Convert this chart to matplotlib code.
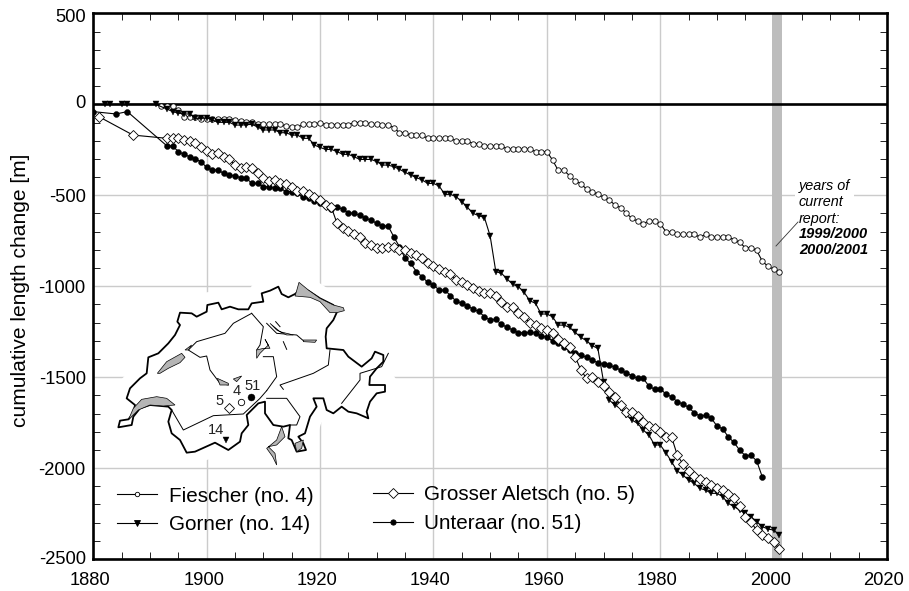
import matplotlib
matplotlib.use("Agg")
import matplotlib.pyplot as plt
from matplotlib.lines import Line2D
from matplotlib.patches import Polygon
from matplotlib.transforms import ScaledTranslation

plt.rcParams['font.family'] = ['Liberation Sans', 'DejaVu Sans']

# ---- data -----
fiescher_years = list(range(1892, 2002))
fiescher_vals = [-10, -8, -8, -30, -68, -68, -70, -78, -80, -80, -78, -78, -78, -85, -90, -95, -95, -110, -110, -110,
                 -110, -110, -120, -127, -127, -110, -110, -110, -100, -112, -112, -112, -112, -112, -100, -100, -100,
                 -110, -110, -114, -114, -128, -156, -156, -171, -171, -171, -187, -187, -187, -187, -187, -202, -202,
                 -202, -216, -216, -229, -229, -229, -229, -246, -246, -246, -246, -246, -260, -260, -260, -306, -363,
                 -363, -392, -422, -436, -466, -480, -495, -510, -524, -554, -568, -598, -627, -642, -656, -642, -642,
                 -656, -700, -700, -715, -715, -715, -715, -730, -715, -730, -730, -730, -730, -745, -759, -788, -788,
                 -803, -862, -891, -906, -920]
fiescher_years = fiescher_years[:len(fiescher_vals)]

gorner_years = [1882, 1883, 1885, 1886, 1891] + list(range(1893, 2002))
gorner_vals = [0, 0, 0, 0, 0, -26, -40, -48, -53, -53, -77, -77, -74, -86, -99, -99, -99, -114, -114, -112, -110, -125,
               -141, -141, -141, -156, -156, -169, -169, -187, -187, -224, -237, -248, -248, -260, -275, -275, -288,
               -303, -303, -303, -315, -334, -334, -343, -357, -374, -389, -403, -416, -435, -435, -449, -495, -495,
               -508, -535, -567, -600, -612, -623, -724, -920, -929, -961, -990, -1003, -1034, -1080, -1094, -1153,
               -1153, -1168, -1214, -1214, -1226, -1254, -1281, -1300, -1327, -1342, -1525, -1626, -1653, -1672, -1708,
               -1736, -1754, -1791, -1818, -1873, -1873, -1916, -1965, -2016, -2038, -2066, -2084, -2112, -2121, -2139,
               -2139, -2157, -2194, -2212, -2231, -2249, -2267, -2295, -2322, -2335, -2341, -2368]

aletsch_years = [1881, 1887] + list(range(1893, 2002))
aletsch_vals = [-68, -169, -187, -183, -183, -196, -200, -215, -233, -255, -273, -270, -288, -303, -334, -352, -347,
                -352, -376, -407, -420, -416, -435, -440, -453, -477, -477, -495, -508, -526, -554, -567, -655, -682,
                -697, -713, -728, -761, -774, -792, -792, -783, -783, -801, -801, -820, -829, -847, -875, -889, -908,
                -920, -933, -966, -975, -994, -1012, -1025, -1036, -1036, -1052, -1085, -1113, -1113, -1150, -1172,
                -1201, -1214, -1232, -1241, -1256, -1290, -1314, -1333, -1388, -1461, -1507, -1501, -1525, -1549,
                -1580, -1611, -1653, -1690, -1694, -1714, -1745, -1769, -1782, -1804, -1828, -1829, -1928, -1978,
                -2016, -2044, -2062, -2079, -2093, -2108, -2121, -2143, -2167, -2209, -2267, -2297, -2341, -2370,
                -2387, -2405, -2445]

unteraar_years = [1880, 1884, 1886] + list(range(1893, 1999))
unteraar_vals = [-40, -53, -40, -229, -229, -260, -275, -288, -301, -315, -347, -361, -361, -380, -389, -394, -403,
                 -407, -435, -435, -453, -453, -462, -462, -480, -480, -490, -512, -517, -530, -545, -558, -575, -563,
                 -578, -596, -600, -610, -627, -636, -655, -669, -669, -728, -783, -847, -875, -920, -948, -979, -994,
                 -1021, -1021, -1052, -1082, -1094, -1109, -1126, -1139, -1168, -1186, -1182, -1210, -1226, -1241,
                 -1256, -1256, -1254, -1256, -1272, -1281, -1300, -1315, -1335, -1350, -1365, -1378, -1391, -1406,
                 -1421, -1430, -1433, -1446, -1461, -1476, -1492, -1507, -1507, -1549, -1567, -1564, -1593, -1608,
                 -1635, -1648, -1666, -1696, -1714, -1710, -1725, -1769, -1784, -1828, -1859, -1901, -1932, -1930,
                 -1960, -2048]

# map outlines, in map units
border = [(55, 472), (60, 452), (85, 448), (100, 430), (105, 405), (80, 385), (90, 355), (120, 325), (140, 310),
          (145, 262), (175, 250), (205, 220), (225, 195), (240, 165), (232, 155), (240, 128), (275, 130), (290, 140),
          (320, 125), (322, 105), (355, 98), (365, 118), (390, 110), (415, 118), (445, 118), (455, 100), (490, 95),
          (485, 70), (510, 62), (535, 50), (545, 72), (565, 82), (585, 72), (600, 60), (625, 62), (660, 85),
          (700, 105), (710, 128), (700, 150), (680, 175), (677, 200), (680, 235), (730, 240), (745, 260), (785, 290),
          (815, 265), (825, 245), (850, 255), (850, 275), (830, 295), (810, 320), (808, 345), (855, 345), (855, 365),
          (830, 370), (810, 395), (800, 425), (805, 445), (770, 430), (745, 425), (725, 410), (700, 430), (680, 420),
          (670, 385), (640, 385), (650, 410), (630, 440), (615, 490), (595, 500), (610, 520), (618, 540), (590, 545),
          (575, 510), (565, 505), (570, 465), (550, 470), (520, 465), (495, 430), (495, 395), (475, 400), (440, 435),
          (445, 465), (425, 490), (420, 515), (385, 540), (345, 518), (285, 545), (260, 548), (240, 510), (215, 490),
          (205, 455), (215, 420), (205, 410), (150, 405), (120, 415), (100, 440), (95, 465)]
rivers = [
    [(215, 420), (250, 480), (340, 437), (430, 432), (480, 385), (500, 362)],
    [(455, 130), (400, 160), (375, 190), (290, 215), (265, 240), (300, 262), (320, 258), (330, 300), (360, 340),
     (385, 345)],
    [(455, 130), (490, 170), (480, 225), (470, 240)],
    [(490, 260), (520, 260), (530, 320), (500, 362)],
    [(550, 358), (540, 345), (640, 310), (685, 285), (690, 240)],
    [(725, 400), (780, 330), (780, 310), (845, 290), (865, 250)],
    [(500, 385), (560, 385), (600, 440), (590, 465), (570, 465)],
    [(500, 160), (530, 190), (590, 195), (610, 212)],
    [(550, 215), (560, 238)],
    [(527, 155), (540, 170)],
]
lakes = [
    [(85, 450), (100, 415), (125, 388), (170, 380), (200, 385), (225, 405), (190, 408), (150, 405), (115, 420)],
    [(172, 310), (200, 275), (245, 250), (255, 262), (240, 278), (205, 295), (180, 310)],
    [(255, 240), (275, 225), (265, 240)],
    [(597, 37), (625, 60), (660, 85), (700, 105), (730, 113), (733, 122), (710, 128), (690, 128), (660, 95),
     (630, 82), (585, 78), (590, 62)],
    [(352, 325), (385, 340), (385, 345), (360, 345)],
    [(400, 327), (425, 318), (410, 335)],
    [(470, 240), (490, 235), (510, 235), (495, 208), (505, 225), (480, 250), (470, 265)],
    [(510, 160), (530, 180), (560, 195), (580, 195), (540, 185)],
    [(610, 210), (650, 210), (645, 217), (610, 215)],
    [(545, 470), (555, 500), (530, 525), (505, 530), (525, 550), (530, 585), (518, 560), (500, 535), (530, 510)],
    [(585, 520), (610, 510), (605, 535), (590, 545)],
]
site_labels = ['5', '4', '51', '14']
site_x = [387, 422, 453, 378]
site_y = [413, 397, 380, 510]
site_tx = [358, 410, 458, 347]
site_ty = [392, 362, 348, 480]

W, H = 909, 591
fig = plt.figure(figsize=(W / 100, H / 100), dpi=100)
L, R, T, B = 93.3, 887, 13.4, 559
ax = fig.add_axes([L / W, 1 - B / H, (R - L) / W, (B - T) / H])
ax.set_xlim(1880, 2020)
ax.set_ylim(-2500, 500)
ax.set_xticks(range(1880, 2021, 20))
ax.set_xticks(range(1880, 2021, 5), minor=True)
ax.set_yticks(range(-2500, 501, 500))
ax.set_yticks(range(-2500, 501, 100), minor=True)
ax.grid(True, which='major', color='#cbcbcb', lw=1.0, zorder=0)
ax.set_axisbelow(True)
ax.tick_params(which='major', direction='in', length=0, labelsize=13.2)
ax.tick_params(axis='x', which='major', pad=9.5)
ax.tick_params(axis='y', which='major', pad=5.5)
ax.tick_params(which='minor', direction='in', length=5, width=0.7, color='#222222', top=True, right=True)
for s in ax.spines.values():
    s.set_linewidth(1.9)
ax.set_yticklabels([str(v) for v in range(-2500, 501, 500)])
ax.set_ylabel('cumulative length change [m]', fontsize=15.1)
ax.yaxis.set_label_coords((30 - L) / (R - L), 1 - (290 - T) / (B - T))

dpi_scale = fig.dpi_scale_trans
def px_shift(dx, dy):
    return ScaledTranslation(dx / 100, dy / 100, dpi_scale)
for lab in ax.get_xticklabels():
    lab.set_transform(lab.get_transform() + px_shift(-3, 0))
for lab, v in zip(ax.get_yticklabels(), range(-2500, 501, 500)):
    shift = {500: -2, 0: 2.5, -2500: 2}.get(v, 0)
    lab.set_transform(lab.get_transform() + px_shift(0, shift))

ax.axvspan(1999.8, 2001.4, color='#bdbdbd', lw=0, zorder=1)
ax.axhline(0, color='black', lw=1.9, zorder=2)

fs = dict(color='black', lw=0.8, mec='black')
ax.plot(fiescher_years, fiescher_vals, marker='o', ms=3.9, mfc='white', mew=0.6, zorder=3, **fs)
ax.plot(gorner_years, gorner_vals, marker='v', ms=4.8, mfc='black', mew=0.3, zorder=4, **fs)
ax.plot(unteraar_years, unteraar_vals, marker='o', ms=4.3, mfc='black', mew=0.3, zorder=5, **fs)
ax.plot(aletsch_years, aletsch_vals, marker='D', ms=5.4, mfc='white', mew=0.6, zorder=6, **fs)

# legend
def key(marker, ms, mfc):
    return Line2D([], [], color='black', lw=0.8, marker=marker, ms=ms, mfc=mfc, mec='black', mew=0.6)

leg_kw = dict(frameon=False, fontsize=14.9, handlelength=1.95, handletextpad=0.54, labelspacing=0.47,
              borderpad=0, borderaxespad=0, bbox_transform=fig.transFigure, loc='upper left')
leg1 = ax.legend([key('o', 3.2, 'white'), key('v', 3.8, 'black')], ['Fiescher (no. 4)', 'Gorner (no. 14)'],
                 bbox_to_anchor=(117 / W, 1 - 486.5 / H), **leg_kw)
ax.add_artist(leg1)
leg1.set_zorder(9)
leg2 = ax.legend([key('D', 5.0, 'white'), key('o', 3.8, 'black')], ['Grosser Aletsch (no. 5)', 'Unteraar (no. 51)'],
                 bbox_to_anchor=(372.7 / W, 1 - 485.5 / H), **leg_kw)
leg2.set_zorder(9)

# annotation
ax.text(799 / W, 1 - 202.5 / H, 'years of\ncurrent\nreport:', transform=fig.transFigure, style='italic',
        fontsize=10.4, va='center', ha='left', linespacing=1.24, zorder=7,
        bbox=dict(fc='white', ec='none', pad=3))
ax.text(799 / W, 1 - 242 / H, '1999/2000\n2000/2001', transform=fig.transFigure, style='italic', weight='bold',
        fontsize=10.5, va='center', ha='left', linespacing=1.24, zorder=8)
fig.add_artist(Line2D([776 / W, 798 / W], [1 - 246 / H, 1 - 222 / H], color='#333333', lw=0.6))

# map inset
mp = fig.add_axes([100 / W, 1 - 470 / H, 300 / W, 200 / H], zorder=7)
mp.set_xlim(0, 900)
mp.set_ylim(600, 0)
mp.axis('off')
mp.patch.set_alpha(0)
mp.add_patch(Polygon(border, closed=True, fc='white', ec='white', lw=18, zorder=1, joinstyle='round'))
mp.add_patch(Polygon(border, closed=True, fc='white', ec='black', lw=1.3, zorder=2, joinstyle='round'))
for lake in lakes:
    mp.add_patch(Polygon(lake, closed=True, fc='#b5b5b5', ec='black', lw=0.5, zorder=4))
for river in rivers:
    mp.plot(*zip(*river), color='black', lw=0.7, zorder=3)
mp.plot(site_x[0], site_y[0], marker='D', ms=5.0, mfc='white', mec='black', mew=0.6, zorder=5)
mp.plot(site_x[1], site_y[1], marker='o', ms=4.6, mfc='white', mec='black', mew=0.6, zorder=5)
mp.plot(site_x[2], site_y[2], marker='o', ms=5.0, mfc='black', mec='black', mew=0.3, zorder=5)
mp.plot(site_x[3], site_y[3], marker='v', ms=5.0, mfc='black', mec='black', mew=0.3, zorder=5)
for lab, tx, ty in zip(site_labels, site_tx, site_ty):
    mp.text(tx, ty, lab, fontsize=10.5, ha='center', va='center', color='#222222', zorder=5)

fig.savefig('out.png', dpi=100)
